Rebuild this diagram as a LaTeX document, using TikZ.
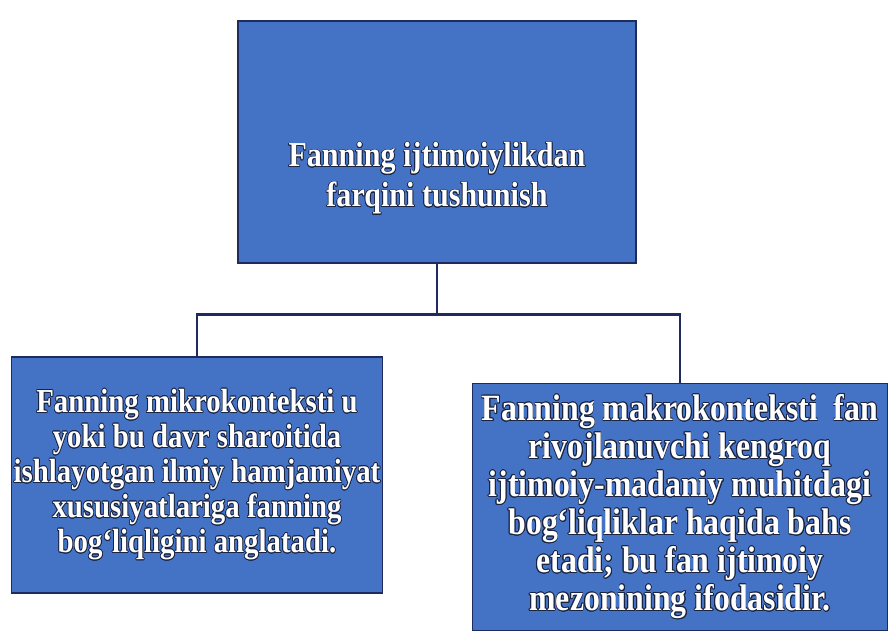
\documentclass[tikz,border=0pt]{standalone}
\usepackage{fontspec}
\usepackage[copies]{contour}
\contourlength{0.7pt}
\contournumber{16}
\newfontfamily\boxfont[FakeStretch=0.86]{Liberation Serif}
\definecolor{boxblue}{HTML}{4472C4}
\definecolor{boxedge}{HTML}{1F2A5E}
\definecolor{shade}{HTML}{1A2440}
\newcommand{\sh}[1]{\contour{shade}{#1}}
\tikzset{
  card/.style={draw=boxedge, line width=1.5pt, fill=boxblue, text=white,
    align=center, inner sep=2pt, font=\boxfont\bfseries},
  link/.style={draw=boxedge, line width=2.6pt}
}
\begin{document}
\begin{tikzpicture}[x=1pt,y=-1pt]
\useasboundingbox (0,0) rectangle (888,634);
\node[card, minimum width=398pt, minimum height=242pt,
  font=\boxfont\bfseries\fontsize{35}{40}\selectfont] (top) at (437,142)
  {\rule{0pt}{98pt}\sh{Fanning ijtimoiylikdan}\\\sh{farqini tushunish}};
\node[card, minimum width=371pt, minimum height=236pt,
  font=\boxfont\bfseries\fontsize{33.5}{35}\selectfont] (left) at (197,475)
  {\sh{Fanning mikrokonteksti u}\\\sh{yoki bu davr sharoitida}\\\sh{ishlayotgan ilmiy hamjamiyat}\\\sh{xususiyatlariga fanning}\\\sh{bog‘liqligini anglatadi.}};
\node[card, minimum width=415pt, minimum height=247pt,
  font=\boxfont\bfseries\fontsize{37}{38}\selectfont] (right) at (680,507)
  {\sh{Fanning makrokonteksti \ fan}\\\sh{rivojlanuvchi kengroq}\\\sh{ijtimoiy-madaniy muhitdagi}\\\sh{bog‘liqliklar haqida bahs}\\\sh{etadi; bu fan ijtimoiy}\\\sh{mezonining ifodasidir.}};
\draw[link] (top.south) -- ++(0,51) coordinate (j);
\draw[link] (j) -| (left.north);
\draw[link] (j) -| (right.north);
\end{tikzpicture}
\end{document}
